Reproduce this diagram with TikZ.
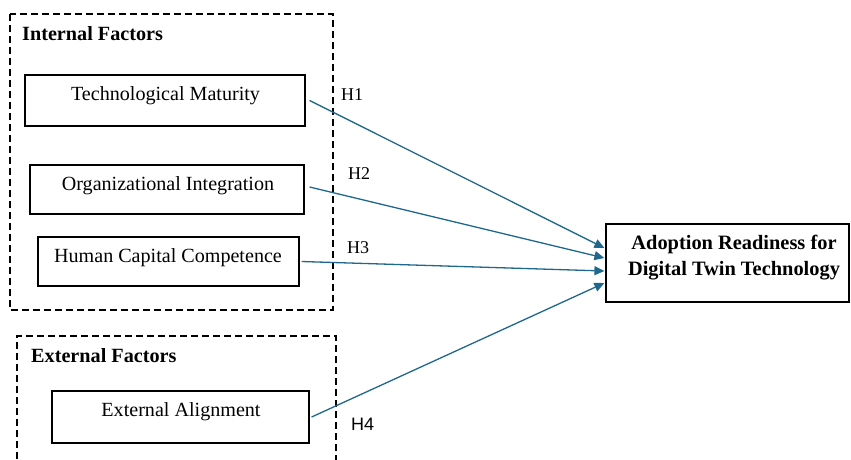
\documentclass[tikz,border=0pt]{standalone}
\usepackage{fontspec}
\setmainfont{Liberation Serif}
\newfontfamily\hsans{Liberation Sans}
\usetikzlibrary{arrows.meta,calc}
\definecolor{arrowblue}{RGB}{31,104,140}
\begin{document}
\begin{tikzpicture}[x=1pt,y=-1pt,
  box/.style={draw=black, line width=1.2pt, inner sep=0pt},
  lbl/.style={font=\fontsize{20.1}{24}\selectfont, anchor=base, inner sep=0pt},
  blbl/.style={font=\fontsize{20.4}{24}\selectfont\bfseries, anchor=base, inner sep=0pt},
  grptitle/.style={font=\fontsize{20.2}{24}\selectfont\bfseries, anchor=base west, inner sep=0pt},
  grp/.style={draw=black, line width=1.1pt, dash pattern=on 7pt off 4pt},
  hyp/.style={draw=arrowblue, line width=1.3pt, -{Triangle[length=10pt,width=9pt]}},
  hlab/.style={font=\fontsize{18}{20}\selectfont, anchor=base west, inner sep=0pt}
]
\useasboundingbox (0,0) rectangle (851,459);
% group frames
\draw[grp] (10,14) rectangle (333,310);
\draw[grp] (17,470) -- (17,336) -- (336,336) -- (336,470);
\node[grptitle] (intt) at (22,40) {Internal Factors};
\node[grptitle] (extt) at (31,362) {External Factors};
% boxes
\node[box, minimum width=280pt, minimum height=51pt] (tm) at (165,100.5) {};
\node[box, minimum width=274pt, minimum height=49pt] (og) at (167,189.5) {};
\node[box, minimum width=261pt, minimum height=49pt] (hc) at (168.5,261.5) {};
\node[box, minimum width=257pt, minimum height=52pt] (ea) at (180.5,417) {};
\node[box, minimum width=243pt, minimum height=78pt] (ar) at (727.5,263) {};
% box texts
\node[lbl] (tmt) at (165.5,100) {Technological Maturity};
\node[lbl] (ogt) at (168,190) {Organizational Integration};
\node[lbl] (hct) at (168,262) {Human Capital Competence};
\node[lbl] (eat) at (181,416.5) {External Alignment};
\node[blbl] (art1) at (734,249) {Adoption Readiness for};
\node[blbl] (art2) at (734,275.5) {Digital Twin Technology};
% connectors
\draw[hyp] ([xshift=4pt]tm.east) -- ([xshift=-1pt,yshift=15pt]ar.west);
\draw[hyp] ([xshift=5pt,yshift=2.5pt]og.east) -- ([xshift=-1pt,yshift=5pt]ar.west);
\draw[hyp] ([xshift=2pt]hc.east) -- ([xshift=-1pt,yshift=-8pt]ar.west);
\draw[hyp] ([xshift=2pt]ea.east) -- ([xshift=-1pt,yshift=-20pt]ar.west);
% hypothesis labels
\node[hlab] (h1) at (341,100) {H1};
\node[hlab] (h2) at (348,179) {H2};
\node[hlab] (h3) at (347,253) {H3};
\node[hlab, font=\fontsize{18}{20}\selectfont\hsans] (h4) at (351,430) {H4};
\end{tikzpicture}
\end{document}
